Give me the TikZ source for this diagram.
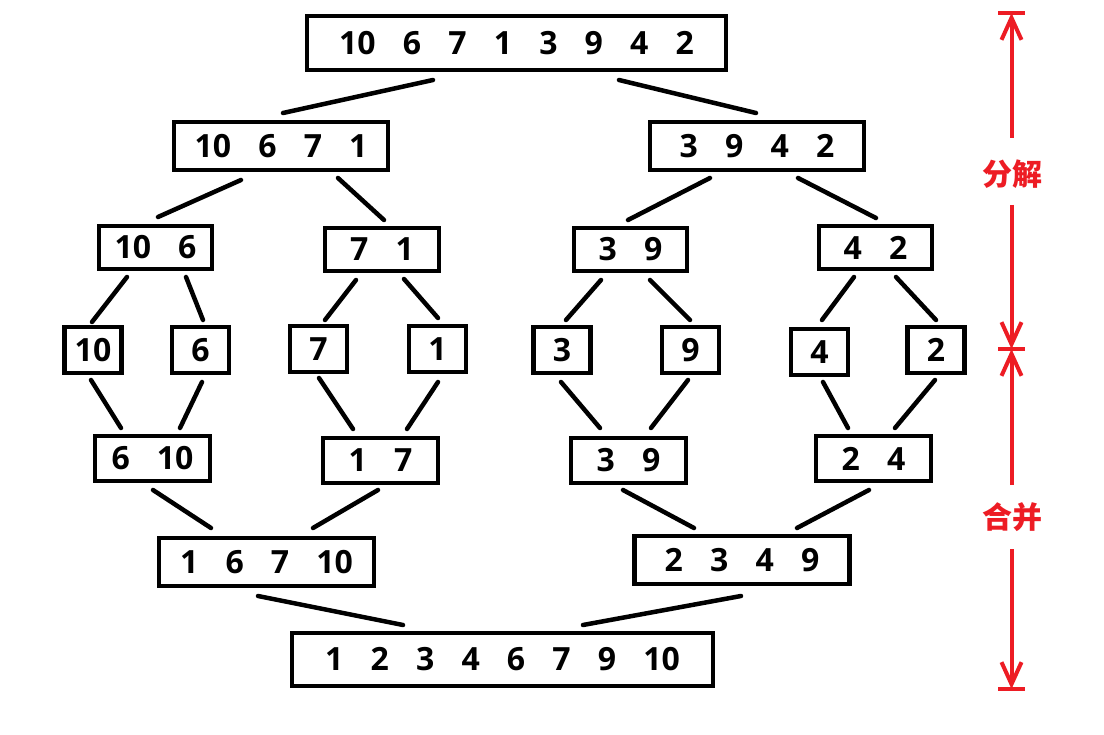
\documentclass[tikz,border=0pt]{standalone}
\usepackage{fontspec}
\setmainfont{Open Sans}
\newfontfamily\dg{Open Sans}
\newfontfamily\cjk{Noto Sans CJK SC}
\usetikzlibrary{arrows.meta}
\definecolor{redc}{RGB}{237,28,36}
\newcommand\gp{\hspace{0.85em}}
\newcommand\bx[6]{\node[box, minimum width=#4pt, minimum height=#5pt] (#1) at (#2,#3) {#6};}
\newcommand\lk[6]{\draw[link] ([xshift=#2pt,yshift=-#3pt]#1.south) -- ([xshift=#5pt,yshift=#6pt]#4.north);}
\begin{document}
\begin{tikzpicture}[x=1pt,y=-1pt,
  box/.style={draw, line width=4.5pt, inner sep=0pt, outer sep=0pt, font=\dg\bfseries\fontsize{32}{32}\selectfont},
  link/.style={line width=4.5pt, line cap=round},
  rarr/.style={draw=redc, line width=4pt, -{Straight Barb[length=22pt,width=20pt]}},
  rbar/.style={draw=redc, line width=4pt},
  rlab/.style={text=redc, inner sep=0pt, font=\cjk\fontsize{30}{30}\selectfont\bfseries}]
\useasboundingbox[fill=white] (0,0) rectangle (1104,735);
% boxes
\bx{top}{516.5}{43}{419}{54}{10\gp6\gp7\gp1\gp3\gp9\gp4\gp2}
\bx{ll}{281}{146}{214}{48}{10\gp6\gp7\gp1}
\bx{lr}{757}{146}{214}{48}{3\gp9\gp4\gp2}
\bx{a3}{155.5}{247.5}{113}{43}{10\gp6}
\bx{b3}{382}{249.5}{114}{43}{7\gp1}
\bx{c3}{630.5}{249.5}{113}{43}{3\gp9}
\bx{d3}{875.5}{247.5}{113}{43}{4\gp2}
\bx{l1}{93}{350}{57}{46}{10}
\bx{l2}{200.5}{350}{57}{46}{6}
\bx{l3}{318.5}{349}{57}{46}{7}
\bx{l4}{437.5}{349}{57}{46}{1}
\bx{l5}{562}{350}{57}{46}{3}
\bx{l6}{690.5}{350}{57}{46}{9}
\bx{l7}{819.5}{352}{57}{46}{4}
\bx{l8}{936}{350}{57}{46}{2}
\bx{m1}{152.5}{458.5}{115}{45}{6\gp10}
\bx{m2}{380.5}{460.5}{115}{45}{1\gp7}
\bx{m3}{628.5}{460.5}{115}{45}{3\gp9}
\bx{m4}{873.5}{458.5}{115}{45}{2\gp4}
\bx{n1}{266.5}{562}{215}{48}{1\gp6\gp7\gp10}
\bx{n2}{742}{560}{215}{48}{2\gp3\gp4\gp9}
\bx{bot}{502.5}{659.5}{421}{53}{1\gp2\gp3\gp4\gp6\gp7\gp9\gp10}
% connectors
\lk{top}{-83.5}{10}{ll}{2}{9}
\lk{top}{102.5}{10}{lr}{-1}{9}
\lk{ll}{-40}{10}{a3}{2.5}{9}
\lk{ll}{57}{8}{b3}{2}{8}
\lk{lr}{-47}{8}{c3}{-2.5}{8}
\lk{lr}{41}{8}{d3}{0.5}{8}
\lk{a3}{-28.5}{8}{l1}{-1}{5}
\lk{a3}{30.5}{8}{l2}{2.5}{7}
\lk{b3}{-26}{9}{l3}{6.5}{6}
\lk{b3}{22}{8}{l4}{0.5}{8}
\lk{c3}{-29.5}{9}{l5}{4}{7}
\lk{c3}{19.5}{9}{l6}{-0.5}{7}
\lk{d3}{-21.5}{8}{l7}{2.5}{9}
\lk{d3}{20.5}{8}{l8}{0}{7}
\lk{l1}{-2}{7}{m1}{-31.5}{8}
\lk{l2}{1.5}{9}{m1}{27.5}{8}
\lk{l3}{0.5}{6}{m2}{-27.5}{9}
\lk{l4}{0.5}{10}{m2}{26.5}{9}
\lk{l5}{-1}{9}{m3}{-28.5}{10}
\lk{l6}{-2.5}{7}{m3}{22.5}{10}
\lk{l7}{3.5}{7}{m4}{-25.5}{8}
\lk{l8}{-1}{7}{m4}{21.5}{8}
\lk{m1}{0.5}{9}{n1}{-55.5}{10}
\lk{m2}{-2.5}{7}{n1}{46.5}{10}
\lk{m3}{-5.5}{7}{n2}{-48}{8}
\lk{m4}{-4.5}{9}{n2}{55}{8}
\lk{n1}{-8.5}{10}{bot}{-99.5}{8}
\lk{n2}{-1}{12}{bot}{80.5}{8}
% red scale
\node[rlab] (fj) at (1012,174) {分解};
\node[rlab] (hb) at (1012,517) {合并};
\coordinate (a0) at (1011.5,13);
\coordinate (a1) at (1011.5,349);
\coordinate (a2) at (1011.5,689);
\draw[rarr] ([xshift=-0.5pt,yshift=36pt]fj.center) -- (a0);
\draw[rarr] ([xshift=-0.5pt,yshift=-31pt]fj.center) -- (a1);
\draw[rarr] ([xshift=-0.5pt,yshift=32pt]hb.center) -- (a1);
\draw[rarr] ([xshift=-0.5pt,yshift=-32pt]hb.center) -- (a2);
\foreach \c in {a0,a1,a2} \draw[rbar] ([xshift=-13.5pt]\c) -- ([xshift=13.5pt]\c);
\end{tikzpicture}
\end{document}
